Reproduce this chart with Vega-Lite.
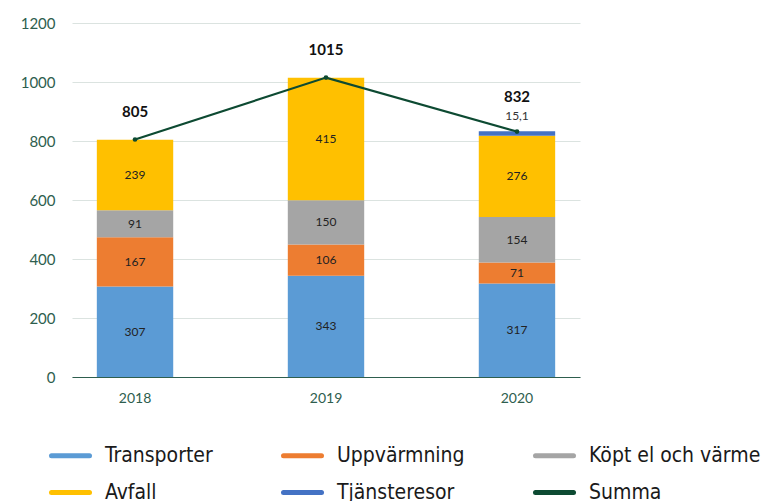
{
  "$schema": "https://vega.github.io/schema/vega-lite/v6.json",
  "autosize": "none",
  "padding": {"left": 72, "top": 23, "right": 192, "bottom": 124},
  "width": 508,
  "height": 354,
  "background": "white",
  "config": {
    "view": {"stroke": null},
    "font": "Lato"
  },
  "datasets": {
    "parts": [
      {"year": "2018", "category": "Transporter", "value": 307},
      {"year": "2018", "category": "Uppvärmning", "value": 167},
      {"year": "2018", "category": "Köpt el och värme", "value": 91},
      {"year": "2018", "category": "Avfall", "value": 239},
      {"year": "2019", "category": "Transporter", "value": 343},
      {"year": "2019", "category": "Uppvärmning", "value": 106},
      {"year": "2019", "category": "Köpt el och värme", "value": 150},
      {"year": "2019", "category": "Avfall", "value": 415},
      {"year": "2020", "category": "Transporter", "value": 317},
      {"year": "2020", "category": "Uppvärmning", "value": 71},
      {"year": "2020", "category": "Köpt el och värme", "value": 154},
      {"year": "2020", "category": "Avfall", "value": 276},
      {"year": "2020", "category": "Tjänsteresor", "value": 15.1}
    ],
    "totals": [
      {"year": "2018", "category": "Summa", "total": 805},
      {"year": "2019", "category": "Summa", "total": 1015},
      {"year": "2020", "category": "Summa", "total": 832}
    ]
  },
  "encoding": {
    "x": {
      "field": "year",
      "type": "nominal",
      "scale": {"paddingInner": 0.6, "paddingOuter": 0.13},
      "axis": {
        "title": null,
        "labelAngle": 0,
        "labelFontSize": 14,
        "labelColor": "#2e5e4e",
        "labelPadding": 14,
        "ticks": false,
        "domainColor": "#2e5e4e",
        "domainWidth": 1
      }
    }
  },
  "layer": [
    {
      "data": {"name": "parts"},
      "transform": [
        {"calculate": "indexof(['Transporter','Uppvärmning','Köpt el och värme','Avfall','Tjänsteresor'], datum.category)", "as": "ord"},
        {"stack": "value", "groupby": ["year"], "sort": [{"field": "ord", "order": "ascending"}], "as": ["v0", "v1"]},
        {"calculate": "(datum.v0 + datum.v1) / 2", "as": "mid"}
      ],
      "layer": [
        {
          "mark": {"type": "bar"},
          "encoding": {
            "y": {
              "field": "v0",
              "type": "quantitative",
              "scale": {"domain": [0, 1200]},
              "axis": {
                "title": null,
                "values": [0, 200, 400, 600, 800, 1000, 1200],
                "format": "d",
                "labelFontSize": 15,
                "labelColor": "#2e5e4e",
                "labelPadding": 17,
                "ticks": false,
                "domain": false,
                "gridColor": "#dbe3e0",
                "gridWidth": 1
              }
            },
            "y2": {"field": "v1"},
            "color": {
              "field": "category",
              "type": "nominal",
              "scale": {
                "domain": ["Transporter", "Uppvärmning", "Köpt el och värme", "Avfall", "Tjänsteresor", "Summa"],
                "range": ["#5b9bd5", "#ed7d31", "#a5a5a5", "#ffc000", "#4472c4", "#0d4a32"]
              },
              "legend": {
                "title": null,
                "orient": "none",
                "legendX": -23,
                "legendY": 411,
                "direction": "horizontal",
                "columns": 3,
                "columnPadding": 60,
                "rowPadding": 5,
                "symbolType": "stroke",
                "symbolSize": 1444,
                "symbolStrokeWidth": 5,
                "symbolOffset": 0,
                "labelFont": "DejaVu Sans Condensed, Roboto Condensed, sans-serif",
                "labelFontSize": 21,
                "labelColor": "#1a1a1a",
                "labelOffset": 13,
                "labelLimit": 300,
                "encode": {
                  "symbols": {
                    "update": {
                      "stroke": {"scale": "color", "field": "value"},
                      "strokeCap": {"value": "round"},
                      "fill": {"value": "transparent"}
                    }
                  }
                }
              }
            }
          }
        },
        {
          "transform": [{"filter": "datum.category !== 'Tjänsteresor'"}],
          "mark": {"type": "text", "fontSize": 12, "color": "#222222", "baseline": "middle"},
          "encoding": {
            "y": {"field": "mid", "type": "quantitative"},
            "text": {"field": "value", "type": "quantitative", "format": "d"}
          }
        },
        {
          "transform": [
            {"filter": "datum.category === 'Tjänsteresor'"},
            {"calculate": "replace(format(datum.value, '.1f'), '.', ',')", "as": "lbl"}
          ],
          "mark": {"type": "text", "fontSize": 12, "color": "#333333", "baseline": "middle", "dy": -15},
          "encoding": {
            "y": {"field": "v1", "type": "quantitative"},
            "text": {"field": "lbl", "type": "nominal"}
          }
        }
      ]
    },
    {
      "data": {"name": "totals"},
      "layer": [
        {
          "mark": {"type": "line", "strokeWidth": 2.2, "color": "#0d4a32"},
          "encoding": {
            "y": {"field": "total", "type": "quantitative"}
          }
        },
        {
          "mark": {"type": "point", "filled": true, "size": 22, "opacity": 1, "color": "#0d4a32"},
          "encoding": {
            "y": {"field": "total", "type": "quantitative"}
          }
        },
        {
          "transform": [{"filter": "datum.year !== '2020'"}],
          "mark": {"type": "text", "fontSize": 15, "fontWeight": "bold", "color": "#111111", "baseline": "middle", "dy": -28},
          "encoding": {
            "y": {"field": "total", "type": "quantitative"},
            "text": {"field": "total", "type": "quantitative", "format": "d"}
          }
        },
        {
          "transform": [{"filter": "datum.year === '2020'"}],
          "mark": {"type": "text", "fontSize": 15, "fontWeight": "bold", "color": "#111111", "baseline": "middle", "dy": -35},
          "encoding": {
            "y": {"field": "total", "type": "quantitative"},
            "text": {"field": "total", "type": "quantitative", "format": "d"}
          }
        }
      ]
    }
  ]
}
